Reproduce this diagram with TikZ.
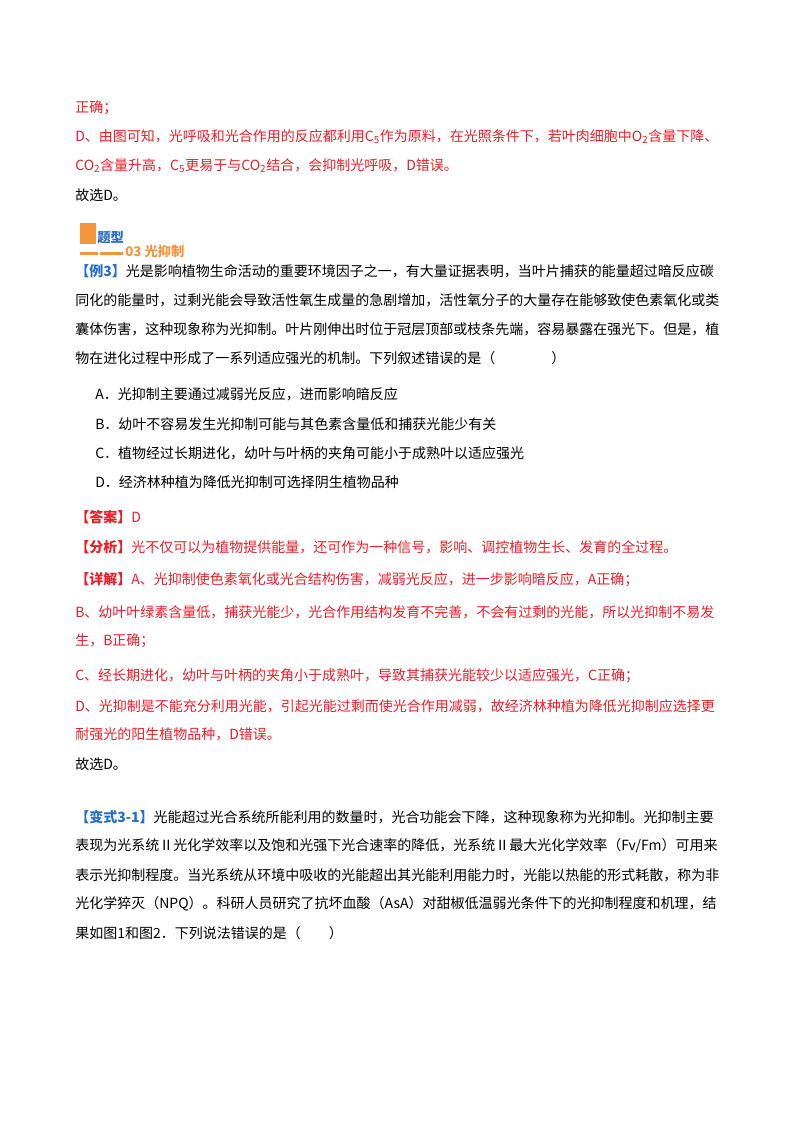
\documentclass[tikz,border=0pt]{standalone}
\usepackage{fontspec}
\setmainfont{Noto Sans CJK SC}
\definecolor{ansred}{RGB}{235,30,40}
\definecolor{tagblue}{RGB}{40,110,200}
\definecolor{headorange}{RGB}{245,150,60}
\newcommand{\sub}[1]{\textsubscript{#1}}
\newcommand{\tagtext}[1]{\textcolor{tagblue}{\bfseries #1}}
\tikzset{
 line/.style={anchor=west,inner sep=0pt,font=\fontsize{10.5pt}{12pt}\selectfont},
 redline/.style={line,text=ansred}
}
\begin{document}
\begin{tikzpicture}[x=0.75pt,y=-0.75pt]
 \useasboundingbox (0,0) rectangle (800,1132);
 \node[redline] (l1) at (75,108) {正确；};
 \node[redline] (l2) at (75,137) {D、由图可知，光呼吸和光合作用的反应都利用C\sub{5}作为原料，在光照条件下，若叶肉细胞中O\sub{2}含量下降、};
 \node[redline] (l3) at (75,166) {CO\sub{2}含量升高，C\sub{5}更易于与CO\sub{2}结合，会抑制光呼吸，D错误。};
 \node[line] (l4) at (75,195) {故选D。};
 % heading
 \fill[headorange] (80,223) rectangle (96,244);
 \fill[headorange] (80,252) rectangle (98,254.5);
 \fill[headorange] (100,252) rectangle (123,254.5);
 \node[line,text=tagblue,font=\fontsize{10pt}{11pt}\bfseries] (ti) at (97,238) {题型};
 \node[line,text=headorange,font=\fontsize{10pt}{11pt}\bfseries] (hd) at (125,251) {03\ 光抑制};
 % example 3
 \node[line] (e1) at (75,271) {\tagtext{【例3】}光是影响植物生命活动的重要环境因子之一，有大量证据表明，当叶片捕获的能量超过暗反应碳};
 \node[line] (e2) at (75,300) {同化的能量时，过剩光能会导致活性氧生成量的急剧增加，活性氧分子的大量存在能够致使色素氧化或类};
 \node[line] (e3) at (75,329) {囊体伤害，这种现象称为光抑制。叶片刚伸出时位于冠层顶部或枝条先端，容易暴露在强光下。但是，植};
 \node[line] (e4) at (75,358) {物在进化过程中形成了一系列适应强光的机制。下列叙述错误的是（\hspace{4em}）};
 \node[line] (oa) at (95,394) {A．光抑制主要通过减弱光反应，进而影响暗反应};
 \node[line] (ob) at (95,424) {B．幼叶不容易发生光抑制可能与其色素含量低和捕获光能少有关};
 \node[line] (oc) at (95,453) {C．植物经过长期进化，幼叶与叶柄的夹角可能小于成熟叶以适应强光};
 \node[line] (od) at (95,482) {D．经济林种植为降低光抑制可选择阴生植物品种};
 \node[redline] (an) at (75,517) {{\bfseries【答案】}D};
 \node[redline] (fx) at (75,547) {{\bfseries【分析】}光不仅可以为植物提供能量，还可作为一种信号，影响、调控植物生长、发育的全过程。};
 \node[redline] (x1) at (75,580) {{\bfseries【详解】}A、光抑制使色素氧化或光合结构伤害，减弱光反应，进一步影响暗反应，A正确；};
 \node[redline] (x2) at (75,612) {B、幼叶叶绿素含量低，捕获光能少，光合作用结构发育不完善，不会有过剩的光能，所以光抑制不易发};
 \node[redline] (x3) at (75,641) {生，B正确；};
 \node[redline] (x4) at (75,676) {C、经长期进化，幼叶与叶柄的夹角小于成熟叶，导致其捕获光能较少以适应强光，C正确；};
 \node[redline] (x5) at (75,706) {D、光抑制是不能充分利用光能，引起光能过剩而使光合作用减弱，故经济林种植为降低光抑制应选择更};
 \node[redline] (x6) at (75,734) {耐强光的阳生植物品种，D错误。};
 \node[line] (gx) at (75,764) {故选D。};
 % variant 3-1
 \node[line] (v1) at (75,817) {\tagtext{【变式3-1】}光能超过光合系统所能利用的数量时，光合功能会下降，这种现象称为光抑制。光抑制主要};
 \node[line] (v2) at (75,846) {表现为光系统Ⅱ光化学效率以及饱和光强下光合速率的降低，光系统Ⅱ最大光化学效率（Fv/Fm）可用来};
 \node[line] (v3) at (75,875) {表示光抑制程度。当光系统从环境中吸收的光能超出其光能利用能力时，光能以热能的形式耗散，称为非};
 \node[line] (v4) at (75,904) {光化学猝灭（NPQ）。科研人员研究了抗坏血酸（AsA）对甜椒低温弱光条件下的光抑制程度和机理，结};
 \node[line] (v5) at (75,933) {果如图1和图2．下列说法错误的是（\hspace{2em}）};
\end{tikzpicture}
\end{document}
